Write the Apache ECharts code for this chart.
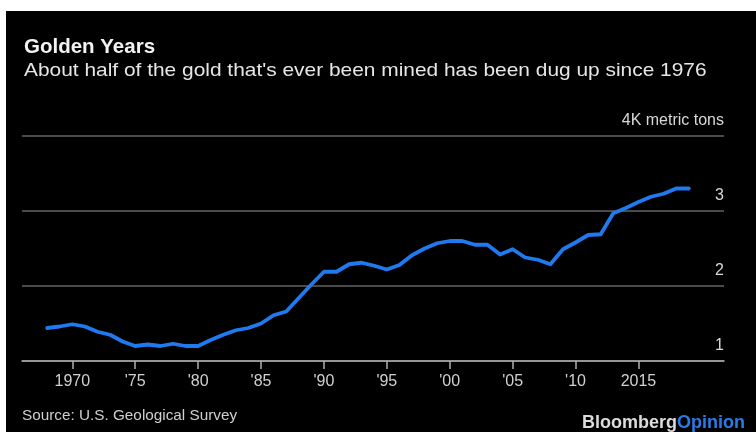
<!DOCTYPE html>
<html>
<head>
<meta charset="utf-8">
<script src="https://cdn.jsdelivr.net/npm/echarts@6/dist/echarts.min.js"></script>
<style>
html,body{margin:0;padding:0;background:#fff;}
#chart{width:756px;height:432px;}
</style>
</head>
<body>
<div id="chart"></div>
<script>
const years = [1968,1969,1970,1971,1972,1973,1974,1975,1976,1977,1978,1979,1980,1981,1982,1983,1984,1985,1986,1987,1988,1989,1990,1991,1992,1993,1994,1995,1996,1997,1998,1999,2000,2001,2002,2003,2004,2005,2006,2007,2008,2009,2010,2011,2012,2013,2014,2015,2016,2017,2018,2019];
const production = [1.44,1.46,1.49,1.46,1.39,1.35,1.26,1.20,1.22,1.20,1.23,1.20,1.20,1.28,1.35,1.41,1.44,1.50,1.61,1.66,1.84,2.02,2.19,2.19,2.29,2.31,2.27,2.22,2.28,2.41,2.50,2.57,2.60,2.60,2.55,2.55,2.42,2.49,2.38,2.35,2.29,2.49,2.58,2.68,2.69,2.97,3.04,3.12,3.19,3.23,3.30,3.30];
const xTickValues = [1970,1975,1980,1985,1990,1995,2000,2005,2010,2015];
const xTickLabels = ['1970',"'75","'80","'85","'90","'95","'00","'05","'10",'2015'];
const yTickValues = [1,2,3,4];
const yTickLabels = ['1','2','3','4K metric tons'];
const titleText = 'Golden Years';
const subtitleText = "About half of the gold that's ever been mined has been dug up since 1976";
const sourceText = 'Source: U.S. Geological Survey';

const chart = echarts.init(document.getElementById('chart'), null, {renderer:'canvas'});
const FONT = '"Liberation Sans", Arial, sans-serif';
chart.setOption({
  backgroundColor: '#000',
  animation: false,
  grid: {left: 22, right: 32, top: 136, bottom: 71},
  xAxis: {
    type: 'value', min: 1966, max: 2021.8,
    axisLine: {show: true, lineStyle: {color: '#b0b0b0', width: 1.5}},
    axisTick: {show: true, customValues: xTickValues, length: 8, lineStyle: {color: '#b0b0b0', width: 1.5}},
    axisLabel: {
      customValues: xTickValues, margin: 13, color: '#d0d0d0', fontSize: 16, fontFamily: FONT,
      formatter: v => xTickLabels[xTickValues.indexOf(Math.round(v))]
    },
    splitLine: {show: false}
  },
  yAxis: {
    type: 'value', min: 1, max: 4, interval: 1, position: 'right',
    axisLine: {show: false}, axisTick: {show: false},
    splitLine: {show: true, lineStyle: {color: '#4a4a4a', width: 2}},
    axisLabel: {
      inside: true, margin: 0, align: 'right', verticalAlign: 'bottom', padding: [0,0,7,0],
      color: '#d8d8d8', fontSize: 16, fontFamily: FONT,
      formatter: v => yTickLabels[yTickValues.indexOf(Math.round(v))]
    }
  },
  series: [{
    type: 'line',
    data: years.map((y,i) => [y, production[i]]),
    showSymbol: false,
    lineStyle: {color: '#1f7af0', width: 3.8, join: 'round', cap: 'round'},
    z: 5
  }],
  graphic: [
    {type:'rect', shape:{x:0,y:0,width:756,height:11}, style:{fill:'#fff'}, z:100},
    {type:'rect', shape:{x:0,y:0,width:6,height:432}, style:{fill:'#fff'}, z:100},
    {type:'text', x:24, y:47, style:{text:titleText, font:'bold 20.5px '+FONT, fill:'#f2f2f2', textVerticalAlign:'middle'}},
    {type:'text', x:24, y:71, scaleX:1.1, style:{text:subtitleText, font:'19px '+FONT, fill:'#e6e6e6', textVerticalAlign:'middle'}},
    {type:'text', x:22, y:416, style:{text:sourceText, font:'15.3px '+FONT, fill:'#cfcfcf', textVerticalAlign:'middle'}},
    {type:'text', x:745, y:423, style:{
      text:'{a|Bloomberg}{b|Opinion}', textAlign:'right', textVerticalAlign:'middle',
      rich:{a:{font:'bold 18px '+FONT, fill:'#dcdcdc'}, b:{font:'bold 18px '+FONT, fill:'#2a7be6'}}
    }}
  ]
});
</script>
</body>
</html>
